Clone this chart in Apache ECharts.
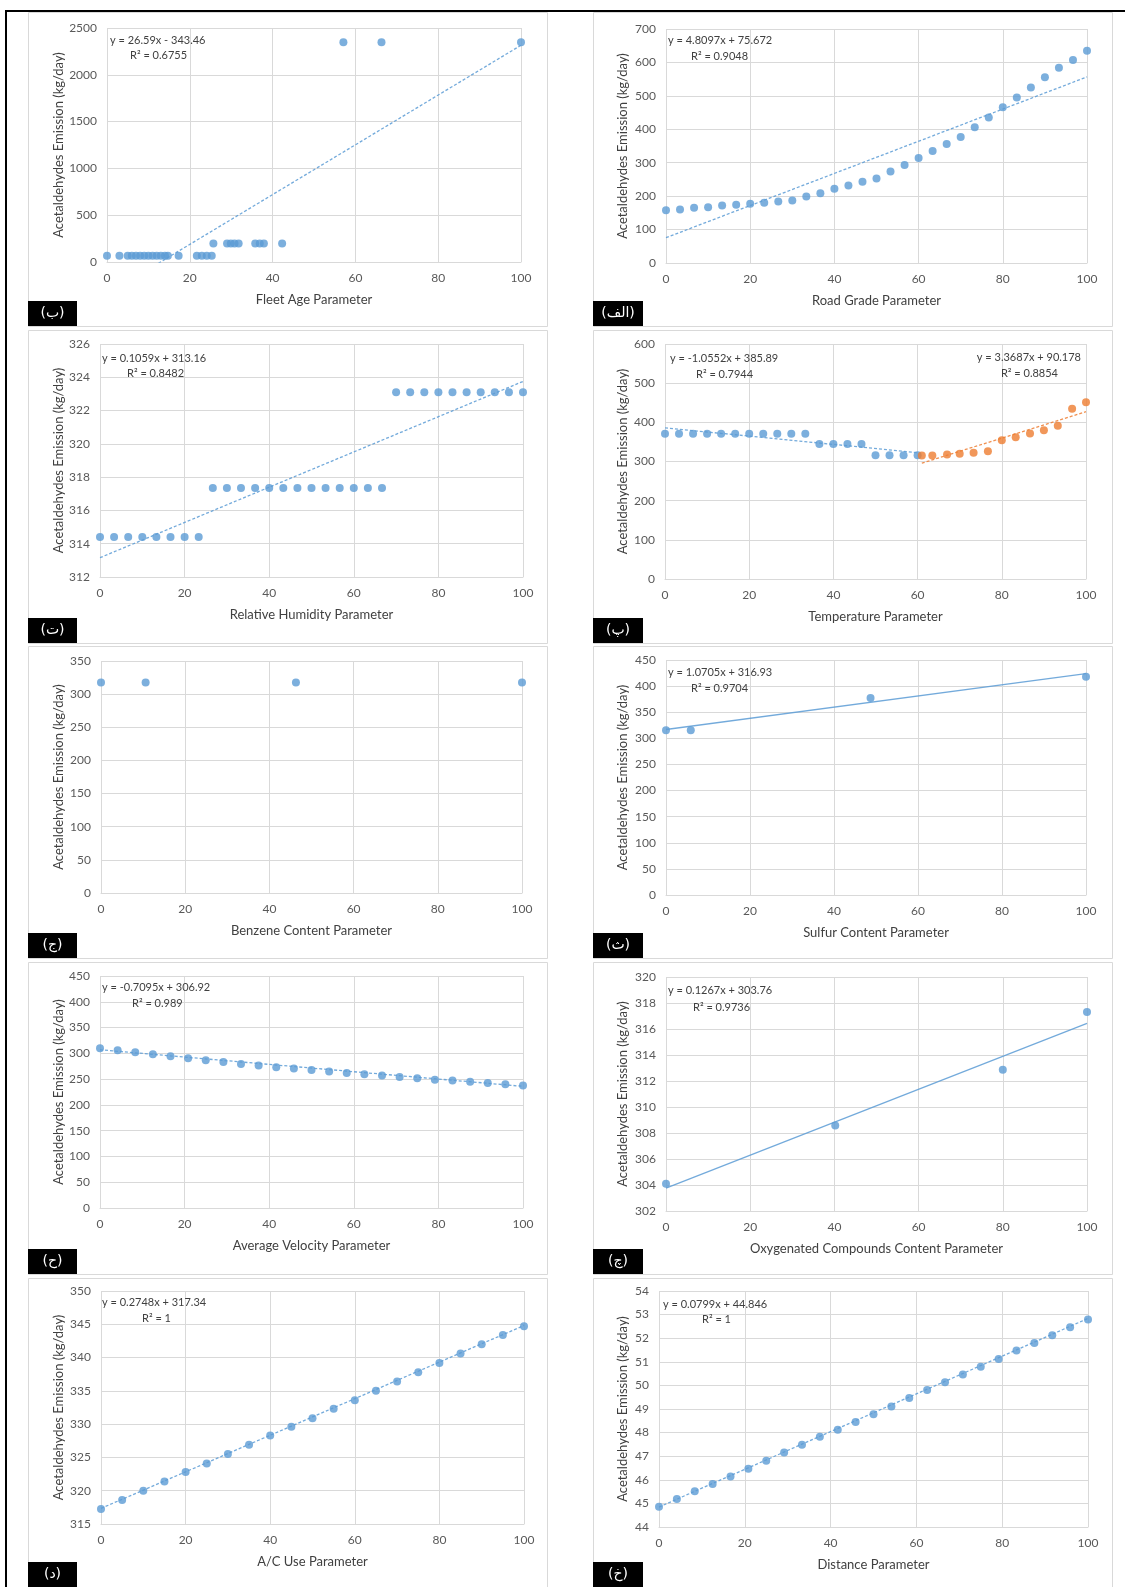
<!DOCTYPE html>
<html><head><meta charset="utf-8">
<script src="https://cdn.jsdelivr.net/npm/echarts@6/dist/echarts.min.js"></script>
<style>html,body{margin:0;padding:0;background:#fff}#c{width:1125px;height:1587px}</style>
</head><body><div id="c"></div>
<script>
// ---------------- DATA ----------------
// (ب) Fleet Age
const fleetX = [0,3,5,6,7,8,9,10,11,12,13,14,14.7,17.3,21.7,22.9,24.1,25.3, 25.7,29,29.9,30.8,31.8,35.8,36.9,37.9,42.3, 57.1,66.3,100];
const fleetY = [68,68,68,68,68,68,68,68,68,68,68,68,68,68,68,68,68,68, 197,197,197,197,197,197,197,197,197, 2349,2349,2349];
const fleetTrend = [[0,-343.46],[100,2315.54]];
// (الف) Road Grade
const gradeX = [0,3.33,6.67,10,13.33,16.67,20,23.33,26.67,30,33.33,36.67,40,43.33,46.67,50,53.33,56.67,60,63.33,66.67,70,73.33,76.67,80,83.33,86.67,90,93.33,96.67,100];
const gradeY = [158,160,165,167,172,174,177,180,184,187,199,209,222,232,243,253,274,293,314,335,356,377,406,435,466,495,525,556,584,607,635];
const gradeTrend = [[0,75.672],[100,556.642]];
// (ت) Relative Humidity
const humidX = [0,3.33,6.67,10,13.33,16.67,20,23.33,26.67,30,33.33,36.67,40,43.33,46.67,50,53.33,56.67,60,63.33,66.67,70,73.33,76.67,80,83.33,86.67,90,93.33,96.67,100];
const humidY = [314.4,314.4,314.4,314.4,314.4,314.4,314.4,314.4,317.35,317.35,317.35,317.35,317.35,317.35,317.35,317.35,317.35,317.35,317.35,317.35,317.35,323.1,323.1,323.1,323.1,323.1,323.1,323.1,323.1,323.1,323.1];
const humidTrend = [[0,313.16],[100,323.75]];
// (پ) Temperature
const tempAX = [0,3.33,6.67,10,13.33,16.67,20,23.33,26.67,30,33.33,36.67,40,43.33,46.67,50,53.33,56.67,60];
const tempAY = [371,371,371,371,371,371,371,371,371,371,371,345,345,345,345,316,316,316,316];
const tempBX = [61,63.5,67,70,73.3,76.7,80,83.3,86.7,90,93.3,96.7,100];
const tempBY = [315.5,315.5,318,320,322.5,326,354,362,371.5,380,391.5,434.5,451.5];
const tempTrendA = [[0,385.89],[60,322.58]];
const tempTrendB = [[61,295.67],[100,427.05]];
// (ج) Benzene Content
const benzX = [0,10.6,46.3,100];
const benzY = [317.5,317.5,317.5,317.5];
// (ث) Sulfur Content
const sulfX = [0,5.9,48.7,100];
const sulfY = [315.4,315.4,377,417.7];
const sulfTrend = [[0,316.93],[100,423.98]];
// (ح) Average Velocity
const velX = [0,4.17,8.33,12.5,16.67,20.83,25,29.17,33.33,37.5,41.67,45.83,50,54.17,58.33,62.5,66.67,70.83,75,79.17,83.33,87.5,91.67,95.83,100];
const velY = [310,306,302.2,298.3,294.4,290.5,286.6,283.4,279.5,276.3,273,270.4,267.8,264.6,262,259.4,256.8,254.2,251.6,249,247.1,245.1,242.5,240,237.4];
const velTrend = [[0,306.92],[100,235.97]];
// (چ) Oxygenated Compounds Content
const oxyX = [0,40.2,80,100];
const oxyY = [304.1,308.58,312.87,317.3];
const oxyTrend = [[0,303.76],[100,316.43]];
// (د) A/C Use
const acX = [0,5,10,15,20,25,30,35,40,45,50,55,60,65,70,75,80,85,90,95,100];
const acY = [317.26,318.6,320.0,321.4,322.8,324.1,325.5,326.9,328.3,329.6,330.9,332.3,333.6,335.0,336.4,337.8,339.2,340.6,342.0,343.4,344.7];
const acTrend = [[0,317.34],[100,344.82]];
// (خ) Distance
const distX = [0,4.17,8.33,12.5,16.67,20.83,25,29.17,33.33,37.5,41.67,45.83,50,54.17,58.33,62.5,66.67,70.83,75,79.17,83.33,87.5,91.67,95.83,100];
const distY = [44.86,45.19,45.51,45.82,46.14,46.47,46.81,47.16,47.49,47.82,48.12,48.45,48.78,49.11,49.47,49.80,50.13,50.46,50.79,51.12,51.48,51.80,52.13,52.46,52.79];
const distTrend = [[0,44.846],[100,52.836]];

const yTitle = 'Acetaldehydes Emission (kg/day)';

// ---------------- LAYOUT / STYLE ----------------
const BLUE = '#5B9BD5', ORANGE = '#ED7D31';
const FONT = 'Lato';
const colX = [[28,547],[593,1112]];
const rowY = [[12,326],[330,643],[646,958],[962,1274],[1278,1590]];

const panels = [
 {row:0,col:0,grid:[107,28,414,234],y:[0,2500,500],xName:'Fleet Age Parameter',tag:'(ب)',
  pts:[[fleetX,fleetY,BLUE]],tr:[[fleetTrend,BLUE]],
  eq:[['y = 26.59x - 343.46',110,40],['R² = 0.6755',130,55]]},
 {row:0,col:1,grid:[666,29,421,234],y:[0,700,100],xName:'Road Grade Parameter',tag:'(الف)',
  pts:[[gradeX,gradeY,BLUE]],tr:[[gradeTrend,BLUE]],
  eq:[['y = 4.8097x + 75.672',668,40],['R² = 0.9048',691,56]]},
 {row:1,col:0,grid:[100,344,423,233],y:[312,326,2],xName:'Relative Humidity Parameter',tag:'(ت)',
  pts:[[humidX,humidY,BLUE]],tr:[[humidTrend,BLUE]],
  eq:[['y = 0.1059x + 313.16',102,358],['R² = 0.8482',127,373]]},
 {row:1,col:1,grid:[665,344,421,235],y:[0,600,100],xName:'Temperature Parameter',tag:'(پ)',
  pts:[[tempAX,tempAY,BLUE],[tempBX,tempBY,ORANGE]],tr:[[tempTrendA,BLUE],[tempTrendB,ORANGE]],
  eq:[['y = -1.0552x + 385.89',670,358],['R² = 0.7944',696,374],
      ['y = 3.3687x + 90.178',1081,357,'right'],['R² = 0.8854',1058,373,'right']]},
 {row:2,col:0,grid:[101,661,421,232],y:[0,350,50],xName:'Benzene Content Parameter',tag:'(ج)',
  pts:[[benzX,benzY,BLUE]],tr:[],eq:[]},
 {row:2,col:1,grid:[666,660,420,235],y:[0,450,50],xName:'Sulfur Content Parameter',tag:'(ث)',
  pts:[[sulfX,sulfY,BLUE]],tr:[[sulfTrend,BLUE,'solid']],
  eq:[['y = 1.0705x + 316.93',668,672],['R² = 0.9704',691,688]]},
 {row:3,col:0,grid:[100,976,423,232],y:[0,450,50],xName:'Average Velocity Parameter',tag:'(ح)',
  pts:[[velX,velY,BLUE]],tr:[[velTrend,BLUE]],
  eq:[['y = -0.7095x + 306.92',102,987],['R² = 0.989',132,1003]]},
 {row:3,col:1,grid:[666,977,421,234],y:[302,320,2],xName:'Oxygenated Compounds Content Parameter',tag:'(چ)',
  pts:[[oxyX,oxyY,BLUE]],tr:[[oxyTrend,BLUE,'solid']],
  eq:[['y = 0.1267x + 303.76',668,990],['R² = 0.9736',693,1007]]},
 {row:4,col:0,grid:[101,1291,423,233],y:[315,350,5],xName:'A/C Use Parameter',tag:'(د)',
  pts:[[acX,acY,BLUE]],tr:[[acTrend,BLUE]],
  eq:[['y = 0.2748x + 317.34',102,1302],['R² = 1',142,1318]]},
 {row:4,col:1,grid:[659,1291,429,236],y:[44,54,1],xName:'Distance Parameter',tag:'(خ)',
  pts:[[distX,distY,BLUE]],tr:[[distTrend,BLUE]],
  eq:[['y = 0.0799x + 44.846',663,1304],['R² = 1',702,1319]]}
];

const grid=[], xAxis=[], yAxis=[], series=[], graphic=[];
const GRID_C = '#d9d9d9';
const plain = v => String(v);

// outer frame
graphic.push({type:'polyline',shape:{points:[[6,1587],[6,11],[1125,11]]},style:{stroke:'#000',lineWidth:2,fill:null},z:1});

panels.forEach((p,i)=>{
  const [x0,x1] = colX[p.col], [y0,y1] = rowY[p.row];
  graphic.push({type:'rect',shape:{x:x0+0.5,y:y0+0.5,width:x1-x0,height:y1-y0},style:{stroke:'#d9d9d9',lineWidth:1,fill:null},z:0});
  graphic.push({type:'rect',shape:{x:x0,y:Math.min(y1,1587)-25,width:p.col?50:49,height:25},style:{fill:'#000'},z:5});
  graphic.push({type:'text',x:x0+(p.col?25:24.5),y:Math.min(y1,1587)-12.5,style:{text:p.tag,fill:'#fff',font:'14px "DejaVu Sans"',align:'center',verticalAlign:'middle'},z:6});
  p.eq.forEach(e=>{
    graphic.push({type:'text',x:e[1],y:e[2],style:{text:e[0],fill:'#404040',font:'11px '+FONT,align:e[3]||'left',verticalAlign:'middle'},z:6});
  });
  const [gl,gt,gw,gh] = p.grid;
  grid.push({left:gl,top:gt,width:gw,height:gh,containLabel:false});
  xAxis.push({type:'value',gridIndex:i,min:0,max:100,interval:20,
    axisLine:{show:true,onZero:false,lineStyle:{color:GRID_C}},axisTick:{show:false},
    splitLine:{show:true,lineStyle:{color:GRID_C,width:1}},
    axisLabel:{color:'#595959',fontSize:12,fontFamily:FONT,margin:10,formatter:plain},
    name:p.xName,nameLocation:'middle',nameGap:31,
    nameTextStyle:{color:'#404040',fontSize:13,fontFamily:FONT}});
  const titleX = p.col ? 622 : 58;
  yAxis.push({type:'value',gridIndex:i,min:p.y[0],max:p.y[1],interval:p.y[2],
    axisLine:{show:false},axisTick:{show:false},
    splitLine:{show:true,lineStyle:{color:GRID_C,width:1}},
    axisLabel:{color:'#595959',fontSize:12,fontFamily:FONT,margin:10,formatter:plain},
    name:yTitle,nameLocation:'middle',nameGap:gl-titleX-7,
    nameTextStyle:{color:'#404040',fontSize:13,fontFamily:FONT}});
  p.tr.forEach(t=>{
    series.push({type:'line',xAxisIndex:i,yAxisIndex:i,data:t[0],showSymbol:false,symbol:'none',clip:true,
      lineStyle:{color:t[1],width:1.3,type:t[2]==='solid'?'solid':[3,2],opacity:0.85},z:2,silent:true});
  });
  p.pts.forEach(s=>{
    series.push({type:'scatter',xAxisIndex:i,yAxisIndex:i,symbol:'circle',symbolSize:8,
      itemStyle:{color:s[2]},data:s[0].map((x,k)=>[x,s[1][k]]),z:3});
  });
});

const chart = echarts.init(document.getElementById('c'),null,{renderer:'canvas'});
chart.setOption({animation:false,backgroundColor:'#fff',grid,xAxis,yAxis,series,graphic});
</script></body></html>
